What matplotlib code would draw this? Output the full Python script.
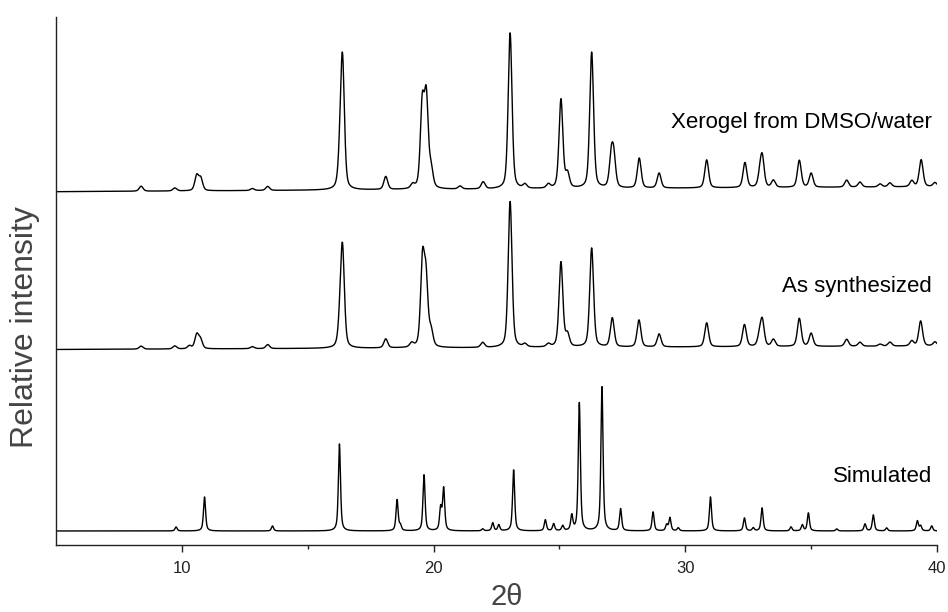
import numpy as np
import matplotlib.pyplot as plt

plt.rcParams['font.family'] = ['Liberation Sans', 'DejaVu Sans']

# peak tables: position (2theta), height (arb. units)
sim_pos = [9.77, 10.90, 13.60, 16.26, 18.55, 18.68, 19.62, 20.28, 20.40, 21.95, 22.35, 22.59,
           23.18, 24.44, 24.77, 25.13, 25.49, 25.79, 26.69, 27.43, 28.72, 29.26, 29.39,
           29.72, 31.00, 32.35, 32.70, 33.05, 34.20, 34.65, 34.89, 36.02, 37.14, 37.47,
           38.00, 39.22, 39.35, 39.79]
sim_int = [4, 34, 5, 87, 31, 5, 56, 22, 42, 2, 8, 6,
           61, 11, 7, 5, 15, 128, 144, 22, 19, 6, 13,
           3, 34, 13, 3, 23, 4, 6, 18, 2, 7, 16,
           3, 10, 5, 5]

syn_pos = [8.38, 9.72, 10.30, 10.59, 10.74, 12.80, 13.41, 16.28, 16.38, 18.10, 19.13, 19.56,
           19.70, 19.90, 21.95, 23.04, 23.63, 24.56, 25.06, 25.32, 26.28, 27.10, 28.16,
           28.96, 30.85, 32.35, 32.95, 33.06, 33.50, 34.53, 35.00, 36.41, 36.94, 37.74,
           38.13, 39.00, 39.35, 39.92]
syn_int = [3, 3, 3, 14, 9, 2, 4, 18, 98, 9, 4, 84,
           64, 15, 5, 146, 3, 3, 85, 12, 99, 29, 27,
           13, 24, 22, 10, 25, 7, 28, 13, 7, 4, 2,
           4, 5, 25, 4]

xer_pos = [8.38, 9.72, 10.59, 10.75, 12.80, 13.41, 16.28, 16.38, 18.10, 19.17, 19.55, 19.71,
           19.90, 21.05, 21.97, 23.04, 23.63, 24.56, 25.06, 25.32, 26.28, 27.06, 27.16,
           28.17, 28.96, 30.85, 32.37, 32.97, 33.06, 33.50, 34.53, 35.00, 36.41, 36.94,
           37.74, 38.13, 39.00, 39.37, 39.92]
xer_int = [5, 3, 15, 12, 2, 4, 22, 128, 13, 4, 82, 88,
           18, 3, 7, 156, 4, 4, 89, 14, 136, 30, 28,
           30, 15, 28, 25, 12, 28, 7, 27, 14, 7, 5,
           3, 4, 6, 27, 4]

# vertical offsets (baseline at left and right end)
sim_base = [14.5, 14.5]
syn_base = [196.0, 199.5]
xer_base = [353.8, 358.8]

labels = ['Simulated', 'As synthesized', 'Xerogel from DMSO/water']
label_y = [68.5, 258.5, 423.5]

tt = np.arange(5.0, 40.0, 0.005)


def pattern(pos, amp, fwhm, eta, base):
    y = np.interp(tt, [tt[0], tt[-1]], base)
    for c, h in zip(pos, amp):
        d = (tt - c) / fwhm
        g = np.exp(-4 * np.log(2) * d ** 2)
        l = 1.0 / (1.0 + 4 * d ** 2)
        y = y + h * (eta * l + (1 - eta) * g)
    return y


fig = plt.figure(figsize=(9.48, 6.12), dpi=100)
ax = fig.add_axes([0.0591, 0.1087, 0.9293, 0.8635])

ax.plot(tt, pattern(sim_pos, sim_int, 0.10, 0.6, sim_base), color='black', lw=1.0)
ax.plot(tt, pattern(syn_pos, syn_int, 0.18, 0.4, syn_base), color='black', lw=1.0)
ax.plot(tt, pattern(xer_pos, xer_int, 0.18, 0.4, xer_base), color='black', lw=1.0)

for txt, yy in zip(labels, label_y):
    ax.text(39.8, yy, txt, ha='right', va='center', fontsize=16, color='black')

ax.set_xlim(5, 40)
ax.set_ylim(0, 528.5)
ax.set_xticks([10, 20, 30, 40])
ax.set_xticks([15, 25, 35], minor=True)
ax.set_yticks([])
ax.tick_params(axis='x', which='major', direction='out', length=5, width=1,
               labelsize=12, pad=6, colors='#222222')
ax.tick_params(axis='x', which='minor', direction='out', length=3, width=1, colors='#222222')

for s in ['top', 'right']:
    ax.spines[s].set_visible(False)
for s in ['left', 'bottom']:
    ax.spines[s].set_color('#222222')
    ax.spines[s].set_linewidth(1.0)

xl = ax.set_xlabel('2θ', fontsize=21, color='#444444')
xl.set_verticalalignment('center')
ax.xaxis.set_label_coords(0.512, -0.0975)
yl = ax.set_ylabel('Relative intensity', fontsize=23, color='#444444')
yl.set_verticalalignment('center')
yl.set_horizontalalignment('center')
ax.yaxis.set_label_coords(-0.0352, 0.413)

fig.savefig('out.png', dpi=100)
